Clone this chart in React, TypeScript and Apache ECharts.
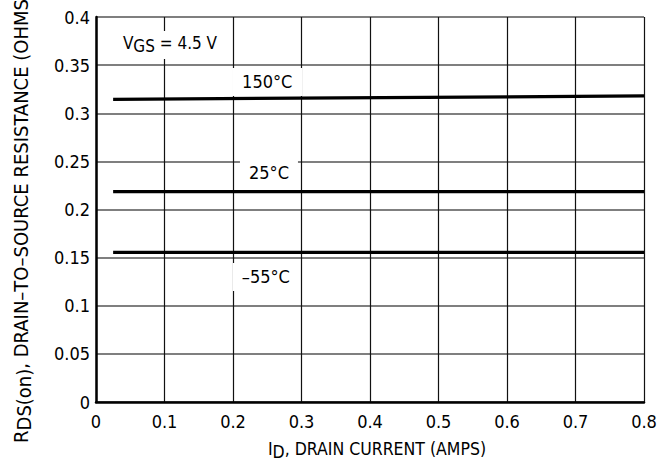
import React, { useEffect, useRef } from "react";
import * as echarts from "echarts";

const FONT = "'Liberation Sans Narrow', 'DejaVu Sans Condensed', 'Liberation Sans', Arial, sans-serif";

const xTicks = { min: 0, max: 0.8, interval: 0.1 };
const yTicks = { min: 0, max: 0.4, interval: 0.05 };

const line150: [number, number][] = [
  [0.025, 0.3145],
  [0.8, 0.318],
];
const line25: [number, number][] = [
  [0.025, 0.2185],
  [0.8, 0.2185],
];
const lineM55: [number, number][] = [
  [0.025, 0.1555],
  [0.8, 0.1555],
];

const labelVgs: [number, number] = [0.108, 0.371];
const label150: [number, number] = [0.25, 0.3325];
const label25: [number, number] = [0.2525, 0.238];
const labelM55: [number, number] = [0.248, 0.13];

function subRich(size: number, drop: number) {
  return {
    n: { fontSize: size, fontFamily: FONT, color: "#000", lineHeight: size + 3, verticalAlign: "top" as const },
    s: { fontSize: size, fontFamily: FONT, color: "#000", lineHeight: size + 3, padding: [drop, 0, 0, 0], verticalAlign: "bottom" as const },
  };
}

function mp(coord: [number, number], formatter: string, pad: number[]) {
  return {
    coord,
    symbolSize: 0,
    label: {
      show: true,
      position: "inside",
      formatter,
      color: "#000",
      fontSize: 18,
      fontFamily: FONT,
      backgroundColor: "#fff",
      padding: pad,
      rich: subRich(17, 8),
    },
  };
}

export default function App() {
  const ref = useRef<HTMLDivElement>(null);
  useEffect(() => {
    if (!ref.current) return;
    const chart = echarts.init(ref.current, undefined, { renderer: "svg" });
    const lineStyle = { color: "#000", width: 3.2 };
    chart.setOption({
      animation: false,
      backgroundColor: "#fff",
      grid: { left: 96, right: 28, top: 17, bottom: 73, containLabel: false, outerBoundsMode: "none" },
      xAxis: {
        type: "value",
        min: xTicks.min,
        max: xTicks.max,
        interval: xTicks.interval,
        name: "{n|I}{s|D}{n|, DRAIN CURRENT (AMPS)}",
        nameLocation: "middle",
        nameGap: 38,
        nameTextStyle: { rich: subRich(17.5, 8), fontFamily: FONT, fontSize: 17.5, color: "#000", padding: [0, 0, 0, 14] },
        axisLine: { show: true, onZero: false, lineStyle: { color: "#000", width: 2.5 } },
        axisTick: { show: false },
        axisLabel: { color: "#000", fontSize: 18, fontFamily: FONT, margin: 10 },
        splitLine: { show: true, lineStyle: { color: "#111", width: 1.2 } },
      },
      yAxis: {
        type: "value",
        min: yTicks.min,
        max: yTicks.max,
        interval: yTicks.interval,
        name: "{n|R}{s|DS(on)}{n|, DRAIN–TO–SOURCE RESISTANCE (OHMS)}",
        nameLocation: "middle",
        nameRotate: 90,
        nameGap: 62,
        nameTextStyle: { rich: subRich(20, 8), fontFamily: FONT, fontSize: 20, color: "#000", padding: [0, 16, 0, 0] },
        axisLine: { show: true, onZero: false, lineStyle: { color: "#000", width: 2.5 } },
        axisTick: { show: false },
        axisLabel: { color: "#000", fontSize: 18, fontFamily: FONT, margin: 6 },
        splitLine: { show: true, lineStyle: { color: "#555", width: 1.5 } },
      },
      series: [
        {
          type: "line",
          data: line150,
          showSymbol: false,
          symbol: "none",
          lineStyle,
          markPoint: {
            symbol: "circle",
            symbolSize: 0,
            data: [
              mp(labelVgs, "{n|V}{s|GS}{n| = 4.5 V}", [4, 10, 4, 10]),
              mp(label150, "150°C", [5, 10, 5, 10]),
            ],
          },
        },
        {
          type: "line",
          data: line25,
          showSymbol: false,
          symbol: "none",
          lineStyle,
          markPoint: {
            symbol: "circle",
            symbolSize: 0,
            data: [mp(label25, "25°C", [5, 9, 5, 9])],
          },
        },
        {
          type: "line",
          data: lineM55,
          showSymbol: false,
          symbol: "none",
          lineStyle,
          markPoint: {
            symbol: "circle",
            symbolSize: 0,
            data: [mp(labelM55, "–55°C", [5, 9, 5, 9])],
          },
        },
      ],
    });
    return () => chart.dispose();
  }, []);
  return (
    <div
      ref={ref}
      style={{ position: "absolute", left: 0, top: 0, width: 672, height: 475 }}
    />
  );
}
